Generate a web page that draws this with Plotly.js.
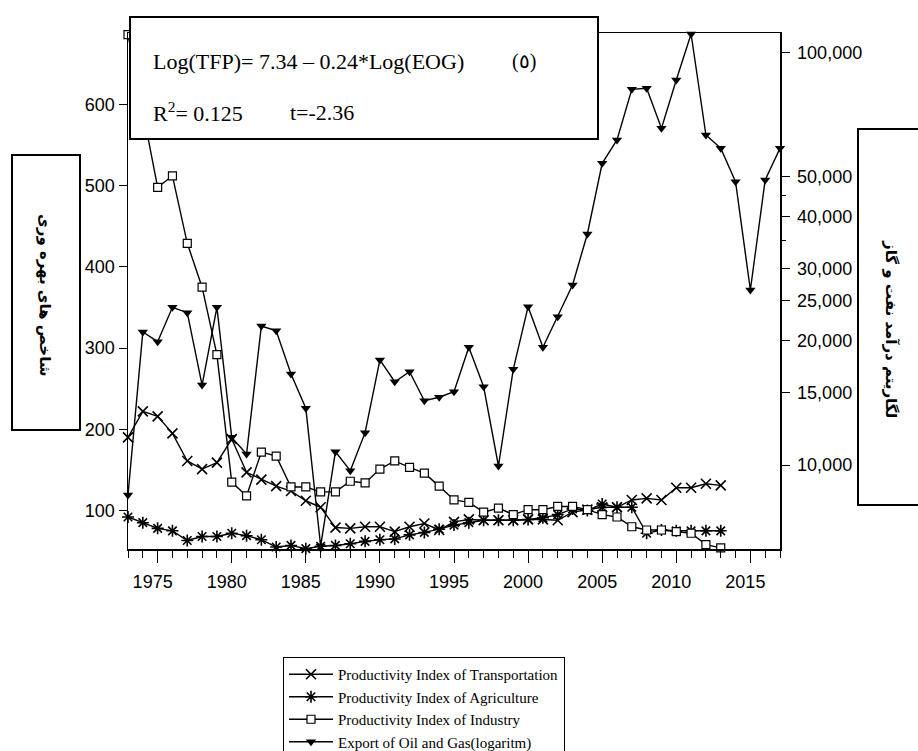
<!DOCTYPE html>
<html>
<head>
<meta charset="utf-8">
<script src="https://cdn.plot.ly/plotly-3.0.1.min.js"></script>
<style>html,body{margin:0;padding:0;background:#fff;}#chart{width:918px;height:751px;}</style>
</head>
<body>
<div id="chart"></div>
<script>
// ---- data ----
const yearsIdx = [1973,1974,1975,1976,1977,1978,1979,1980,1981,1982,1983,1984,1985,1986,1987,1988,1989,1990,1991,1992,1993,1994,1995,1996,1997,1998,1999,2000,2001,2002,2003,2004,2005,2006,2007,2008,2009,2010,2011,2012,2013];
const yearsExport = [1973,1974,1975,1976,1977,1978,1979,1980,1981,1982,1983,1984,1985,1986,1987,1988,1989,1990,1991,1992,1993,1994,1995,1996,1997,1998,1999,2000,2001,2002,2003,2004,2005,2006,2007,2008,2009,2010,2011,2012,2013,2014,2015,2016,2017];

const transportation = [190,222,216,195,161,151,159,188,147,138,130,124,112,104,79,78,80,80,74,80,84,76,86,89,88,88,88,89,89,88,98,101,104,104,113,115,113,128,128,133,131];
const agriculture = [92,85,78,75,63,68,68,72,69,64,55,57,53,56,57,59,62,64,65,70,73,77,82,85,88,88,88,89,91,95,102,100,108,104,104,72,76,75,75,75,75];
const industry = [686,590,498,512,429,375,292,135,118,172,167,129,129,123,123,136,134,151,161,153,146,130,113,110,98,103,95,101,101,105,105,101,95,92,80,76,76,74,72,58,54];
const exportOG = [8460,21020,19910,24130,23410,15630,24130,11670,10630,21740,21170,16620,13730,6360,10770,9690,11980,17980,15920,16840,14320,14600,15060,19300,15490,9945,17060,24210,19300,22890,27330,36340,53920,61430,81500,81960,65550,85870,111000,63150,58640,48660,26570,49120,58640];

const seriesNames = ['Productivity Index of Transportation','Productivity Index of Agriculture','Productivity Index of Industry','Export of Oil and Gas(logaritm)'];
const xTickVals = [1975,1980,1985,1990,1995,2000,2005,2010,2015];
const leftTickVals = [100,200,300,400,500,600];
const rightTickVals = [10000,15000,20000,25000,30000,40000,50000,100000];
const rightTickText = ['10,000','15,000','20,000','25,000','30,000','40,000','50,000','100,000'];
const rightMinorVals = [35000,45000];

// ---- figure ----
const W = 918, H = 751, L = 128, R = 780, T = 33, B = 549;
const px = v => (v - L) / (R - L);
const py = v => (B - v) / (B - T);

const lineStyle = {color:'black', width:1.4};
const traces = [
  {x: yearsIdx, y: transportation, name: seriesNames[0], mode:'lines+markers', line: lineStyle,
   marker:{symbol:'x-thin-open', size:10, color:'black', line:{color:'black', width:1.6}}, cliponaxis:false},
  {x: yearsIdx, y: agriculture, name: seriesNames[1], mode:'lines+markers', line: lineStyle,
   marker:{symbol:'asterisk-open', size:10, color:'black', line:{color:'black', width:1.6}}, cliponaxis:false},
  {x: yearsIdx, y: industry, name: seriesNames[2], mode:'lines+markers', line: lineStyle,
   marker:{symbol:'square', size:8, color:'white', line:{color:'black', width:1.2}}, cliponaxis:false},
  {x: yearsExport, y: exportOG, name: seriesNames[3], yaxis:'y2', mode:'lines+markers', line: lineStyle,
   marker:{symbol:'triangle-down', size:9, color:'black', line:{color:'black', width:0}}, cliponaxis:false}
];

const tickFont = {family:'Liberation Sans, Arial, sans-serif', size:18, color:'black'};
const serif = 'Liberation Serif, Times New Roman, serif';

const layout = {
  width: W, height: H,
  margin: {l: L, r: W - R, t: T, b: H - B, pad: 0, autoexpand: false},
  paper_bgcolor: 'white', plot_bgcolor: 'white',
  showlegend: true,
  xaxis: {
    range: [1973, 2017], showgrid:false, zeroline:false,
    showline:true, linecolor:'black', linewidth:1.5, mirror:true,
    ticks:'outside', ticklen:12, tickwidth:1, tickcolor:'black',
    tickmode:'array', tickvals: xTickVals, ticktext: xTickVals.map(String),
    tickfont: tickFont, ticklabelshift: -5, ticklabelstandoff: 4,
    minor: {dtick:1, tick0:1973, ticks:'outside', ticklen:7, tickwidth:1, tickcolor:'black', showgrid:false}
  },
  yaxis: {
    range: [52.6, 688], showgrid:false, zeroline:false,
    showline:true, linecolor:'black', linewidth:1.5,
    ticks:'outside', ticklen:8, tickwidth:1, tickcolor:'black',
    tickmode:'array', tickvals: leftTickVals, ticktext: leftTickVals.map(String),
    tickfont: tickFont
  },
  yaxis2: {
    type:'log', overlaying:'y', side:'right',
    range: [3.7963, 5.0478], showgrid:false, zeroline:false,
    showline:true, linecolor:'black', linewidth:1.5,
    ticks:'outside', ticklen:8, tickwidth:1, tickcolor:'black',
    tickmode:'array', tickvals: rightTickVals, ticktext: rightTickText,
    tickfont: tickFont, ticklabelstandoff: 4,
    minor: {tickmode:'array', tickvals: rightMinorVals, ticks:'outside', ticklen:4, tickwidth:1, tickcolor:'black', showgrid:false}
  },
  legend: {
    x: px(283), y: py(657), xanchor:'left', yanchor:'top',
    bordercolor:'black', borderwidth:1, bgcolor:'white',
    font: {family: serif, size:15, color:'black'},
    itemwidth: 44, tracegroupgap: 0
  },
  shapes: [
    {type:'rect', xref:'paper', yref:'paper', x0:px(130), x1:px(598), y0:py(139), y1:py(17),
     line:{color:'black', width:2}, fillcolor:'white', layer:'above'},
    {type:'rect', xref:'paper', yref:'paper', x0:px(12), x1:px(80), y0:py(430), y1:py(155),
     line:{color:'black', width:2}, fillcolor:'rgba(0,0,0,0)', layer:'above'},
    {type:'rect', xref:'paper', yref:'paper', x0:px(858), x1:px(930), y0:py(505), y1:py(129),
     line:{color:'black', width:2}, fillcolor:'rgba(0,0,0,0)', layer:'above'}
  ],
  annotations: [
    {xref:'paper', yref:'paper', x:px(151), y:py(62), xanchor:'left', yanchor:'middle', showarrow:false,
     text:'Log(TFP)= 7.34 \u2013 0.24*Log(EOG)', font:{family: serif, size:22, color:'black'}},
    {xref:'paper', yref:'paper', x:px(524), y:py(62), xanchor:'center', yanchor:'middle', showarrow:false,
     text:'(\u0665)', font:{family: serif, size:20, color:'black'}},
    {xref:'paper', yref:'paper', x:px(151), y:py(112), xanchor:'left', yanchor:'middle', showarrow:false,
     text:'R<sup>2</sup>= 0.125', font:{family: serif, size:22, color:'black'}},
    {xref:'paper', yref:'paper', x:px(288), y:py(112), xanchor:'left', yanchor:'middle', showarrow:false,
     text:'t=-2.36', font:{family: serif, size:22, color:'black'}},
    {xref:'paper', yref:'paper', x:px(45), y:py(295), xanchor:'center', yanchor:'middle', showarrow:false,
     textangle:90, text:'شاخص های بهره وری', font:{family:'DejaVu Sans, Noto Sans, sans-serif', size:15, color:'black', weight:'bold'}},
    {xref:'paper', yref:'paper', x:px(891), y:py(329), xanchor:'center', yanchor:'middle', showarrow:false,
     textangle:90, text:'لگاریتم درآمد نفت و گاز', font:{family:'DejaVu Sans, Noto Sans, sans-serif', size:15, color:'black', weight:'bold'}}
  ]
};

Plotly.newPlot('chart', traces, layout, {displayModeBar:false, staticPlot:true});
</script>
</body>
</html>
